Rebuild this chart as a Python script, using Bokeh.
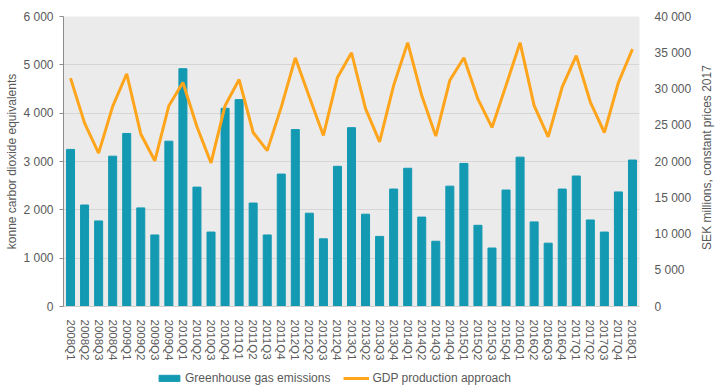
import math
from bokeh.plotting import figure
from bokeh.layouts import row, column
from bokeh.models import (FactorRange, Range1d, LinearAxis, FixedTicker, Label,
                          CustomJSTickFormatter, Legend, LegendItem, ColumnDataSource)
from bokeh.embed import file_html
from bokeh.resources import INLINE

quarters = [f"{y}Q{q}" for y in range(2008, 2018) for q in range(1, 5)] + ["2018Q1"]

emissions = [3250, 2100, 1770, 3110, 3580, 2040, 1480, 3420, 4920, 2470,
             1540, 4100, 4280, 2140, 1480, 2740, 3660, 1930, 1400, 2900,
             3700, 1910, 1450, 2430, 2860, 1850, 1350, 2490, 2960, 1680,
             1210, 2410, 3090, 1750, 1310, 2430, 2700, 1790, 1540, 2370,
             3030]

gdp = [31500, 25300, 21150, 27600, 32100, 23800, 20100, 27700, 30900, 24800,
       19800, 27700, 31300, 24000, 21500, 27500, 34300, 28900, 23600, 31600,
       35000, 27300, 22700, 30500, 36400, 29100, 23500, 31200, 34300, 28600,
       24700, 30500, 36400, 27700, 23400, 30300, 34600, 28200, 24000, 30900,
       35500]

left_ticks = [0, 1000, 2000, 3000, 4000, 5000, 6000]
right_ticks = [0, 5000, 10000, 15000, 20000, 25000, 30000, 35000, 40000]

FONT = "Liberation Sans"
TXT = "#595959"
BAR = "#1399b2"
LINE = "#ffa51c"

LAB_W = 24
MAIN_W, MAIN_H = 718 - LAB_W, 364
LEG_H = 388 - MAIN_H

src = ColumnDataSource(dict(q=quarters, e=emissions, g=gdp))
xr = FactorRange(*quarters, range_padding=0)

p = figure(width=MAIN_W, height=MAIN_H, output_backend="svg", toolbar_location=None,
           x_range=xr, y_range=Range1d(0, 6000),
           min_border_left=63, min_border_right=55, min_border_top=16,
           min_border_bottom=58)
p.extra_y_ranges = {"gdp": Range1d(0, 40000)}

p.background_fill_color = "#ebebeb"
p.border_fill_color = "white"
p.outline_line_color = None

bars = p.vbar(x="q", top="e", width=0.57, source=src, color=BAR)
line = p.line(x="q", y="g", source=src, y_range_name="gdp", color=LINE, line_width=3)

fmt = CustomJSTickFormatter(code="""
return tick.toFixed(0).replace(/\\B(?=(\\d{3})+(?!\\d))/g, ' ');
""")

# left axis
ya = p.yaxis[0]
ya.ticker = FixedTicker(ticks=left_ticks)
ya.formatter = fmt
ya.axis_label = "konne carbor dioxide equivalents"
ya.axis_label_text_font = FONT
ya.axis_label_text_font_size = "12px"
ya.axis_label_text_font_style = "normal"
ya.axis_label_text_color = TXT
ya.major_label_text_font = FONT
ya.major_label_text_font_size = "12px"
ya.major_label_text_color = TXT
ya.axis_line_color = "#8c8c8c"
ya.major_tick_line_color = "#8c8c8c"
ya.major_tick_in = 0
ya.major_tick_out = 4
ya.minor_tick_line_color = None
ya.major_label_standoff = 6
ya.axis_label_standoff = 1

# right axis (its title is drawn in a narrow side panel so it reads bottom-to-top)
ra = LinearAxis(y_range_name="gdp", ticker=FixedTicker(ticks=right_ticks), formatter=fmt)
ra.major_label_text_font = FONT
ra.major_label_text_font_size = "12px"
ra.major_label_text_color = TXT
ra.axis_line_color = None
ra.major_tick_line_color = None
ra.minor_tick_line_color = None
ra.major_label_standoff = 9
p.add_layout(ra, "right")

# x axis
xa = p.xaxis[0]
xa.major_label_orientation = "vertical"
xa.major_label_text_font = FONT
xa.major_label_text_font_size = "11.5px"
xa.major_label_text_color = TXT
xa.axis_line_color = "#d0d0d0"
xa.major_tick_line_color = None
xa.minor_tick_line_color = None
xa.major_label_standoff = 7

p.xgrid.grid_line_color = None
p.ygrid.grid_line_color = "#d6d6d6"
p.ygrid.ticker = FixedTicker(ticks=left_ticks)

# legend panel (swatches come from renderers whose marks fall far outside this panel's range)
pl = figure(width=MAIN_W, height=LEG_H, output_backend="svg", toolbar_location=None,
            x_range=xr, y_range=Range1d(100000, 100001),
            x_axis_location=None, y_axis_location=None,
            min_border_left=0, min_border_right=0, min_border_top=0, min_border_bottom=0)
pl.outline_line_color = None
pl.background_fill_color = None
pl.xgrid.grid_line_color = None
pl.ygrid.grid_line_color = None
lb = pl.vbar(x="q", top="e", width=0.57, source=src, color=BAR)
ll = pl.line(x="q", y="g", source=src, color=LINE, line_width=3)
legend = Legend(items=[LegendItem(label="Greenhouse gas emissions", renderers=[lb]),
                       LegendItem(label="GDP production approach", renderers=[ll])],
                orientation="horizontal", location=(93, 3),
                background_fill_alpha=0, border_line_color=None,
                label_text_font=FONT, label_text_font_size="12px",
                label_text_color=TXT, glyph_width=26, glyph_height=8,
                spacing=13, label_standoff=3, padding=2, margin=0)
pl.add_layout(legend, "center")

# right axis title panel
pr = figure(width=LAB_W, height=388, output_backend="svg", toolbar_location=None,
            x_range=Range1d(0, 1), y_range=Range1d(0, 1),
            x_axis_location=None, y_axis_location=None,
            min_border_left=0, min_border_right=0, min_border_top=0, min_border_bottom=0)
pr.outline_line_color = None
pr.xgrid.grid_line_color = None
pr.ygrid.grid_line_color = None
pr.add_layout(Label(x=12, y=388 - 157, x_units="screen", y_units="screen",
                    text="SEK millions, constant prices 2017", angle=math.pi / 2,
                    text_align="center", text_baseline="middle",
                    text_font=FONT, text_font_size="12px", text_color=TXT))

layout = row(column(p, pl), pr)
open("out.html", "w").write(file_html(layout, INLINE))
